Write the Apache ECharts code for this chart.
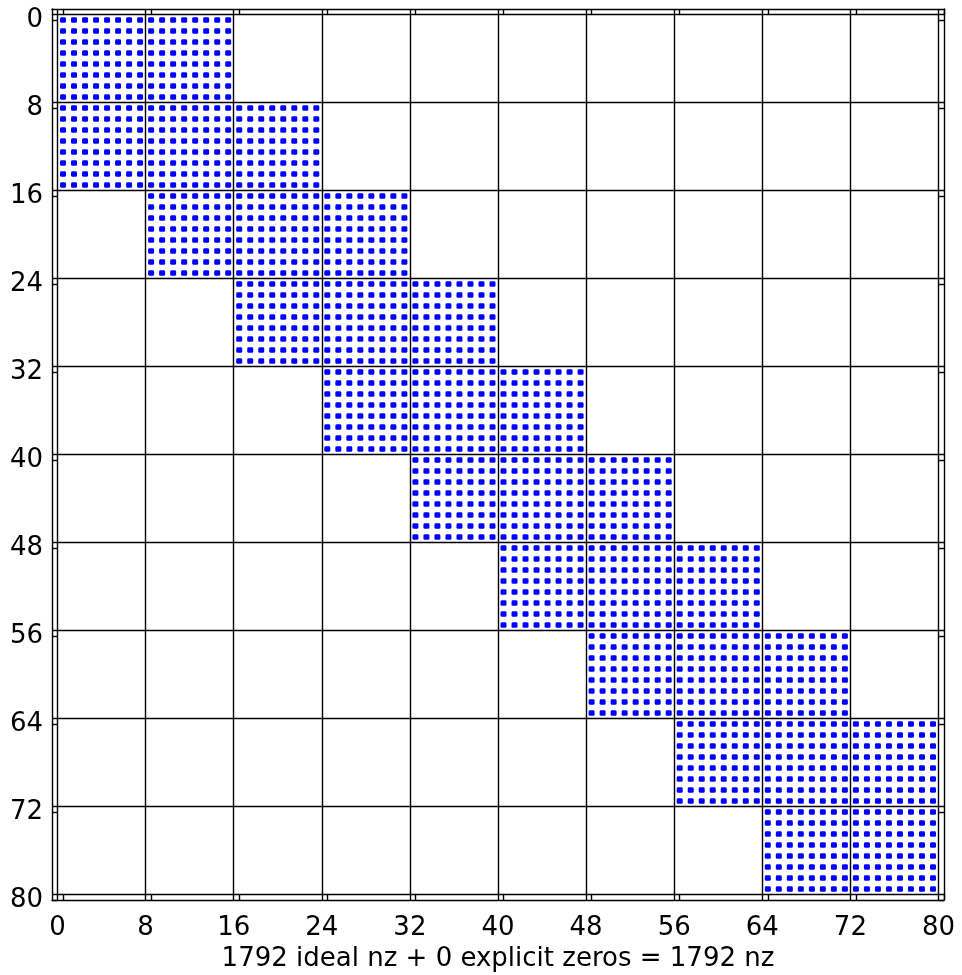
<!DOCTYPE html>
<html>
<head>
<meta charset="utf-8">
<script src="https://cdn.jsdelivr.net/npm/echarts@6/dist/echarts.min.js"></script>
<style>
html,body{margin:0;padding:0;background:#fff;}
#chart{width:962px;height:975px;}
</style>
</head>
<body>
<div id="chart"></div>
<script>
// ---- data ----
const xTickLabels = [0, 8, 16, 24, 32, 40, 48, 56, 64, 72, 80];
const yTickLabels = [0, 8, 16, 24, 32, 40, 48, 56, 64, 72, 80];
const blockSize = 8;
const blockRowStart = [0, 8, 16, 24, 32, 40, 48, 56, 64, 72];
const blockColStart = [0, 0, 8, 16, 24, 32, 40, 48, 56, 64];
const blockColEnd   = [16, 24, 32, 40, 48, 56, 64, 72, 80, 80];
const idealNz = 1792;
const explicitZeros = 0;
const matrixSize = 80;

// nonzero positions from block structure
const points = [];
for (let b = 0; b < blockRowStart.length; b++) {
  for (let r = blockRowStart[b]; r < blockRowStart[b] + blockSize; r++) {
    for (let c = blockColStart[b]; c < blockColEnd[b]; c++) {
      points.push([c + 0.5, r + 0.5]);
    }
  }
}

const xlabel = idealNz + ' ideal nz + ' + explicitZeros + ' explicit zeros = ' + (idealNz + explicitZeros) + ' nz';
const font = 'DejaVu Sans';
const lo = -0.5, hi = matrixSize + 0.5;
const xTickPos = xTickLabels.map(v => v + 0.5);
const yTickPos = yTickLabels.map(v => v + 0.5);

const chart = echarts.init(document.getElementById('chart'), null, {renderer: 'canvas'});
const lineStyle = {color: '#000', width: 1.4};
chart.setOption({
  animation: false,
  backgroundColor: '#fff',
  grid: {left: 52, top: 9, width: 892, height: 891, containLabel: false, outerBoundsMode: 'none'},
  xAxis: [
    {
      type: 'value', position: 'bottom', min: lo, max: hi,
      axisLine: {show: true, onZero: false, lineStyle: lineStyle},
      axisTick: {show: true, inside: true, length: 6, customValues: xTickPos, lineStyle: lineStyle},
      axisLabel: {show: true, customValues: xTickLabels, margin: 15, color: '#000', fontFamily: font, fontSize: 26},
      splitLine: {show: false},
      name: xlabel, nameLocation: 'middle', nameGap: 46,
      nameTextStyle: {color: '#000', fontFamily: font, fontSize: 26}
    },
    {
      type: 'value', position: 'top', min: lo, max: hi,
      axisLine: {show: true, onZero: false, lineStyle: lineStyle},
      axisTick: {show: true, inside: true, length: 6, customValues: xTickPos, lineStyle: lineStyle},
      axisLabel: {show: false},
      splitLine: {show: false}
    }
  ],
  yAxis: [
    {
      type: 'value', position: 'left', inverse: true, min: lo, max: hi,
      axisLine: {show: true, onZero: false, lineStyle: lineStyle},
      axisTick: {show: true, inside: true, length: 6, customValues: yTickPos, lineStyle: lineStyle},
      axisLabel: {show: true, customValues: yTickPos, formatter: v => String(Math.round(v - 0.5)), margin: 9,
        padding: [8, 0, 0, 0],
        color: '#000', fontFamily: font, fontSize: 26},
      splitLine: {show: false}
    },
    {
      type: 'value', position: 'right', inverse: true, min: lo, max: hi,
      axisLine: {show: true, onZero: false, lineStyle: lineStyle},
      axisTick: {show: true, inside: true, length: 6, customValues: yTickPos, lineStyle: lineStyle},
      axisLabel: {show: false},
      splitLine: {show: false}
    }
  ],
  series: [
    {
      type: 'scatter',
      xAxisIndex: 0, yAxisIndex: 0,
      data: points,
      symbol: 'roundRect',
      symbolSize: [6, 5.5],
      itemStyle: {color: '#0000ff', opacity: 1},
      large: false,
      silent: true,
      z: 3,
      markLine: {
        silent: true,
        symbol: ['none', 'none'],
        label: {show: false},
        lineStyle: {color: '#000', width: 1.4, type: 'solid'},
        data: xTickLabels.map(v => ({xAxis: v})).concat(yTickLabels.map(v => ({yAxis: v})))
      }
    }
  ]
});
</script>
</body>
</html>
